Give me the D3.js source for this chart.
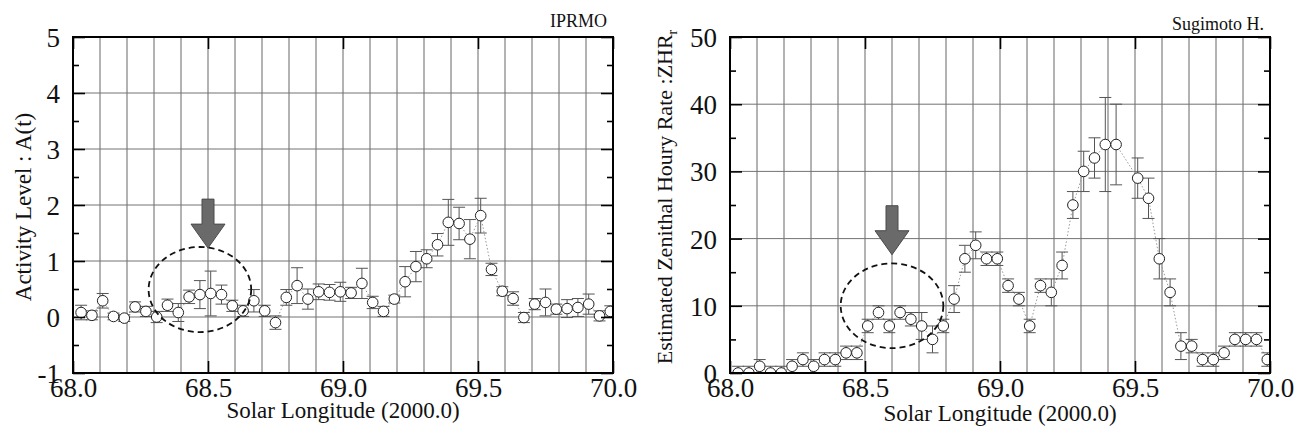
<!DOCTYPE html>
<html>
<head>
<meta charset="utf-8">
<script src="https://cdn.jsdelivr.net/npm/d3@7"></script>
<style>
  body { margin: 0; background: #fff; }
  svg text { font-family: "Liberation Serif", "Times New Roman", Times, serif !important; fill: #111; }
</style>
</head>
<body>
<div id="chart"></div>
<script>
// ---- data: IPRMO activity level
const lonIPRMO = [68.03, 68.07, 68.11, 68.15, 68.19, 68.23, 68.27, 68.31, 68.35, 68.39,
  68.43, 68.47, 68.51, 68.55, 68.59, 68.63, 68.67, 68.71, 68.75, 68.79,
  68.83, 68.87, 68.91, 68.95, 68.99, 69.03, 69.07, 69.11, 69.15, 69.19,
  69.23, 69.27, 69.31, 69.35, 69.39, 69.43, 69.47, 69.51, 69.55, 69.59,
  69.63, 69.67, 69.71, 69.75, 69.79, 69.83, 69.87, 69.91, 69.95, 69.99];
const activity = [0.08, 0.03, 0.29, 0.01, -0.02, 0.18, 0.10, 0.0, 0.21, 0.08,
  0.36, 0.40, 0.42, 0.40, 0.20, 0.11, 0.29, 0.11, -0.10, 0.35,
  0.56, 0.32, 0.45, 0.44, 0.45, 0.43, 0.60, 0.26, 0.10, 0.32,
  0.63, 0.90, 1.04, 1.29, 1.69, 1.67, 1.39, 1.81, 0.85, 0.46,
  0.33, -0.01, 0.23, 0.26, 0.14, 0.15, 0.17, 0.23, 0.02, 0.10];
const activityErr = [0.13, 0.08, 0.13, 0.06, 0.06, 0.09, 0.09, 0.10, 0.11, 0.16,
  0.12, 0.25, 0.40, 0.17, 0.10, 0.10, 0.20, 0.10, 0.12, 0.14,
  0.32, 0.18, 0.14, 0.14, 0.17, 0.10, 0.27, 0.11, 0.09, 0.07,
  0.27, 0.27, 0.16, 0.20, 0.41, 0.29, 0.35, 0.31, 0.11, 0.08,
  0.12, 0.09, 0.10, 0.24, 0.09, 0.16, 0.16, 0.18, 0.09, 0.10];

// ---- data: Sugimoto H. ZHR (no value at 69.47)
const lonSugimoto = [68.03, 68.07, 68.11, 68.15, 68.19, 68.23, 68.27, 68.31, 68.35, 68.39,
  68.43, 68.47, 68.51, 68.55, 68.59, 68.63, 68.67, 68.71, 68.75, 68.79,
  68.83, 68.87, 68.91, 68.95, 68.99, 69.03, 69.07, 69.11, 69.15, 69.19,
  69.23, 69.27, 69.31, 69.35, 69.39, 69.43, 69.51, 69.55, 69.59,
  69.63, 69.67, 69.71, 69.75, 69.79, 69.83, 69.87, 69.91, 69.95, 69.99];
const zhr = [0, 0, 1, 0, 0, 1, 2, 1, 2, 2,
  3, 3, 7, 9, 7, 9, 8, 7, 5, 7,
  11, 17, 19, 17, 17, 13, 11, 7, 13, 12,
  16, 25, 30, 32, 34, 34, 29, 26, 17,
  12, 4, 4, 2, 2, 3, 5, 5, 5, 2];
const zhrErr = [1, 1, 1, 1, 1, 1, 1, 1, 1, 1,
  1, 1, 1, 1, 1, 1, 1, 2, 2, 1,
  2, 2, 2, 1, 1, 1, 1, 1, 1, 2,
  2, 2, 3, 3, 7, 6, 3, 3, 3,
  2, 2, 1, 1, 1, 1, 1, 1, 1, 1];

const xTicks = [68.0, 68.5, 69.0, 69.5, 70.0];

const svg = d3
  .select("#chart")
  .append("svg")
  .attr("width", 1297)
  .attr("height", 439);

const plotTop = 37,
  plotBottom = 373,
  plotW = 540;
const serif = '"Liberation Serif", "Times New Roman", serif';

function panel(cfg) {
  const x = d3.scaleLinear().domain([68, 70]).range([cfg.left, cfg.left + plotW]);
  const y = d3.scaleLinear().domain(cfg.yDomain).range([plotBottom, plotTop]);
  const right = cfg.left + plotW;
  const g = svg.append("g");

  g.append("clipPath")
    .attr("id", cfg.id + "-clip")
    .append("rect")
    .attr("x", cfg.left)
    .attr("y", plotTop)
    .attr("width", plotW)
    .attr("height", plotBottom - plotTop);

  // grid
  g.append("g")
    .selectAll("line")
    .data(x.ticks(20))
    .join("line")
    .attr("x1", (d) => x(d))
    .attr("x2", (d) => x(d))
    .attr("y1", plotTop)
    .attr("y2", plotBottom)
    .attr("stroke", "#666")
    .attr("stroke-width", 1);
  g.append("g")
    .selectAll("line")
    .data(cfg.yMajor)
    .join("line")
    .attr("x1", cfg.left)
    .attr("x2", right)
    .attr("y1", (d) => y(d))
    .attr("y2", (d) => y(d))
    .attr("stroke", "#737373")
    .attr("stroke-width", 1);

  const pts = cfg.lon.map((d, i) => ({ lon: d, v: cfg.vals[i], e: cfg.errs[i] }));
  const data = g.append("g").attr("clip-path", "url(#" + cfg.id + "-clip)");

  // dotted connecting line
  data.append("path")
    .datum(pts)
    .attr("fill", "none")
    .attr("stroke", "#9a9a9a")
    .attr("stroke-width", 1)
    .attr("stroke-dasharray", "1.5,2")
    .attr("d", d3.line().x((d) => x(d.lon)).y((d) => y(d.v)));

  // error bars
  const eb = data.append("g")
    .attr("stroke", "#555")
    .attr("stroke-width", 1)
    .selectAll("g")
    .data(pts)
    .join("g");
  eb.append("line")
    .attr("x1", (d) => x(d.lon))
    .attr("x2", (d) => x(d.lon))
    .attr("y1", (d) => y(d.v - d.e))
    .attr("y2", (d) => y(d.v + d.e));
  eb.selectAll("line.cap")
    .data((d) => [d.v - d.e, d.v + d.e].map((c) => ({ lon: d.lon, c: c })))
    .join("line")
    .attr("class", "cap")
    .attr("x1", (d) => x(d.lon) - 6)
    .attr("x2", (d) => x(d.lon) + 6)
    .attr("y1", (d) => y(d.c))
    .attr("y2", (d) => y(d.c));

  // markers
  data.append("g")
    .selectAll("circle")
    .data(pts)
    .join("circle")
    .attr("cx", (d) => x(d.lon))
    .attr("cy", (d) => y(d.v))
    .attr("r", 5.3)
    .attr("fill", "#fff")
    .attr("stroke", "#222")
    .attr("stroke-width", 1);

  // dashed ellipse + arrow
  const el = cfg.ellipse;
  g.append("ellipse")
    .attr("cx", x(el.lon))
    .attr("cy", y(el.val))
    .attr("rx", x(el.lon + el.rLon) - x(el.lon))
    .attr("ry", y(el.val - el.rVal) - y(el.val))
    .attr("fill", "none")
    .attr("stroke", "#111")
    .attr("stroke-width", 1.8)
    .attr("stroke-dasharray", "6,4");

  const ax = x(cfg.arrow.lon),
    ay = y(cfg.arrow.tip);
  g.append("path")
    .attr("d", `M${ax - 6},${ay - 49}L${ax + 6},${ay - 49}L${ax + 6},${ay - 24}L${ax + 17},${ay - 24}L${ax},${ay}L${ax - 17},${ay - 24}L${ax - 6},${ay - 24}Z`)
    .attr("fill", "#6a6a6a")
    .attr("stroke", "#4a4a4a")
    .attr("stroke-width", 1);

  // axes: inward ticks
  const yFmt = (d) => String(d);
  const yl = g.append("g")
    .attr("transform", `translate(${cfg.left},0)`)
    .call(d3.axisLeft(y).tickValues(cfg.yMajor).tickSizeInner(-12).tickSizeOuter(0).tickPadding(13).tickFormat(yFmt));
  g.append("g")
    .attr("transform", `translate(${cfg.left},0)`)
    .call(d3.axisLeft(y).tickValues(cfg.yMinor).tickSizeInner(-6).tickSizeOuter(0).tickFormat(""));
  g.append("g")
    .attr("transform", `translate(${right},0)`)
    .call(d3.axisRight(y).tickValues(cfg.yMajor).tickSizeInner(-12).tickSizeOuter(0).tickFormat(""));
  g.append("g")
    .attr("transform", `translate(${right},0)`)
    .call(d3.axisRight(y).tickValues(cfg.yMinor).tickSizeInner(-6).tickSizeOuter(0).tickFormat(""));
  const xb = g.append("g")
    .attr("transform", `translate(0,${plotBottom})`)
    .call(d3.axisBottom(x).tickValues(xTicks).tickSizeInner(-12).tickSizeOuter(0).tickPadding(5).tickFormat(d3.format(".1f")));
  g.append("g")
    .attr("transform", `translate(0,${plotTop})`)
    .call(d3.axisTop(x).tickValues(xTicks).tickSizeInner(-12).tickSizeOuter(0).tickFormat(""));

  g.selectAll(".domain").remove();
  g.selectAll(".tick line").attr("stroke", "#000").attr("stroke-width", 1.6);
  yl.attr("font-family", serif).attr("font-size", 27);
  yl.selectAll("text").style("font-family", serif).attr("fill", "#111").attr("dy", "0.35em");
  xb.attr("font-family", serif).attr("font-size", 27);
  xb.selectAll("text").style("font-family", serif).attr("fill", "#111");

  // frame
  g.append("rect")
    .attr("x", cfg.left)
    .attr("y", plotTop)
    .attr("width", plotW)
    .attr("height", plotBottom - plotTop)
    .attr("fill", "none")
    .attr("stroke", "#000")
    .attr("stroke-width", 2);

  // titles
  g.append("text")
    .attr("x", cfg.left + plotW / 2)
    .attr("y", cfg.xTitleY)
    .attr("text-anchor", "middle")
    .attr("font-size", 23)
    .style("font-family", serif)
    .text("Solar Longitude (2000.0)");

  const yt = g.append("text")
    .attr("transform", `translate(${cfg.yTitleX},${cfg.yTitleY}) rotate(-90)`)
    .attr("text-anchor", "middle")
    .attr("font-size", cfg.yTitleSize)
    .style("font-family", serif)
    .text(cfg.yTitle);
  if (cfg.yTitleSub) {
    yt.append("tspan").attr("font-size", 14).attr("dy", 5).text(cfg.yTitleSub);
  }

  g.append("text")
    .attr("x", right - 6)
    .attr("y", cfg.sourceY)
    .attr("text-anchor", "end")
    .attr("font-size", 18)
    .style("font-family", serif)
    .text(cfg.source);
}

panel({
  id: "iprmo",
  left: 73,
  yDomain: [-1, 5],
  yMajor: [-1, 0, 1, 2, 3, 4, 5],
  yMinor: [-0.5, 0.5, 1.5, 2.5, 3.5, 4.5],
  lon: lonIPRMO,
  vals: activity,
  errs: activityErr,
  ellipse: { lon: 68.47, val: 0.49, rLon: 0.19, rVal: 0.76 },
  arrow: { lon: 68.5, tip: 1.23 },
  xTitleY: 418,
  yTitle: "Activity Level : A(t)",
  yTitleX: 31,
  yTitleY: 207,
  yTitleSize: 23,
  source: "IPRMO",
  sourceY: 27,
});

panel({
  id: "sugimoto",
  left: 730,
  yDomain: [0, 50],
  yMajor: [0, 10, 20, 30, 40, 50],
  yMinor: [5, 15, 25, 35, 45],
  lon: lonSugimoto,
  vals: zhr,
  errs: zhrErr,
  ellipse: { lon: 68.6, val: 10.0, rLon: 0.19, rVal: 6.3 },
  arrow: { lon: 68.6, tip: 17.6 },
  xTitleY: 421,
  yTitle: "Estimated Zenithal Houry Rate :ZHR",
  yTitleSub: "r",
  yTitleX: 672,
  yTitleY: 197,
  yTitleSize: 22,
  source: "Sugimoto H.",
  sourceY: 30,
});
</script>
</body>
</html>
